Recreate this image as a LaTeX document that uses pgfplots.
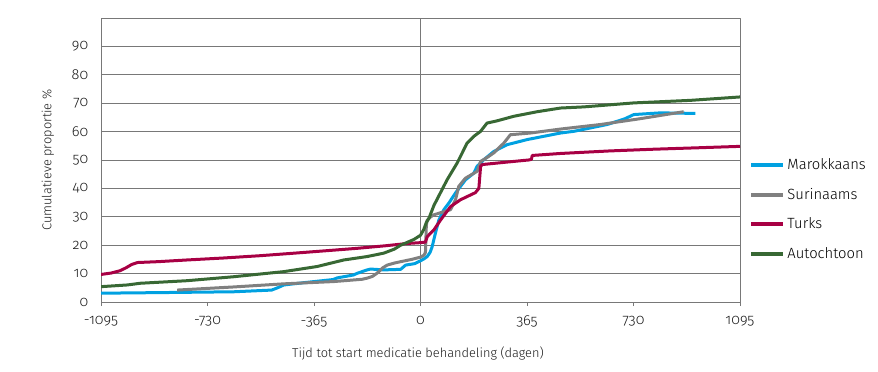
\documentclass[border=0pt]{standalone}
\usepackage{fontspec}
\setmainfont{Fira Sans Light}[Numbers=OldStyle]
\usepackage{pgfplots}
\pgfplotsset{compat=1.18}
\definecolor{cblue}{RGB}{0,161,225}
\definecolor{cgray}{RGB}{128,128,128}
\definecolor{cred}{RGB}{168,0,68}
\definecolor{cgreen}{RGB}{56,104,52}
\definecolor{gridc}{RGB}{120,120,120}
\begin{document}
\begin{tikzpicture}[x=1pt,y=1pt]
\path (0,0) rectangle (878,372);
\begin{axis}[
  at={(101pt,70pt)}, anchor=south west,
  scale only axis, width=639pt, height=284pt,
  xmin=-1095, xmax=1095, ymin=0, ymax=100,
  axis line style={gridc, line width=0.8pt},
  xtick={-1095,-730,-365,0,365,730,1095},
  xticklabels={-1095,-730,-365,0,365,730,1095},
  ytick={0,10,...,90},
  yticklabels={0,10,20,30,40,50,60,70,80,90},
  ymajorgrids, major grid style={gridc, line width=0.7pt},
  tick align=outside, xtick pos=bottom, ytick pos=left,
  major x tick style={gridc, line width=0.8pt},
  xtick style={/pgfplots/major tick length=4pt},
  ytick style={draw=none},
  tick label style={font=\fontsize{14.5}{15}\selectfont, text=black!90},
  xticklabel style={yshift=-6pt},
  yticklabel style={xshift=-5pt},
  xlabel={Tijd tot start medicatie behandeling (dagen)},
  ylabel={Cumulatieve proportie \%},
  label style={font=\fontsize{12.8}{14}\selectfont, text=black!90},
  xlabel style={at={(axis description cs:0.496,-0.18)}, anchor=center},
  ylabel style={at={(axis description cs:-0.083,0.5)}, anchor=center},
  legend style={at={(axis description cs:1.0145,0.326)}, anchor=west, draw=none, fill=none,
    font=\fontsize{14.8}{15}\selectfont, inner sep=0pt, row sep=13pt,
    /tikz/every even column/.style={column sep=0pt}},
  legend cell align=left,
  legend image code/.code={\draw[#1, line width=4pt] (0pt,0pt) -- (32pt,0pt);},
  line join=round,
]
\draw[gridc, line width=0.7pt] (axis cs:0,0) -- (axis cs:0,100);
\addplot[cblue, line width=3pt] coordinates {
(-1095,3.1) (-900,3.3) (-640,3.6) (-510,4.2) (-490,5) (-468,6) (-400,6.8) (-300,7.9) (-285,8.5) (-230,9.5) (-217,10.1) (-183,11.3) (-171,11.6) (-126,11.3) (-68,11.5) (-51,13) (-20,13.5) (0,14.5) (12,15.2) (23,16) (33,17.5) (40,19.5) (51,24.2) (63,28.9) (80,32.5) (97,34.8) (120,38.4) (137,40.7) (154,43) (183,45.4) (194,47.8) (217,50.1) (251,53) (297,55.4) (366,57.2) (480,59.5) (526,60.1) (640,62.5) (700,64.5) (731,66) (822,66.6) (942,66.4)
};
\addlegendentry{Marokkaans}
\addplot[cgray, line width=3pt] coordinates {
(-834,4.2) (-640,5.3) (-468,6.4) (-297,7.2) (-200,8) (-183,8.4) (-165,9) (-148,10.2) (-130,12) (-114,13) (-90,13.7) (-68,14.2) (-30,15) (0,15.8) (12,16.5) (17,17.5) (20,27) (23,28.8) (35,30) (46,30.7) (80,31.8) (103,32.5) (120,36) (131,40.7) (154,43.6) (194,46) (206,49.5) (230,51) (251,52.5) (286,56) (308,58.9) (377,59.5) (480,60.9) (617,62.5) (750,64.5) (902,67)
};
\addlegendentry{Surinaams}
\addplot[cred, line width=3pt] coordinates {
(-1095,9.7) (-1060,10.2) (-1030,11) (-1010,12) (-990,13.2) (-970,13.9) (-900,14.2) (-800,14.8) (-674,15.5) (-550,16.3) (-445,17.1) (-330,18) (-217,18.9) (-120,19.8) (-46,20.6) (0,20.9) (17,21.1) (23,23) (46,25.4) (69,28.9) (103,33.6) (137,36) (188,38.5) (200,40) (206,47.8) (212,48.4) (300,49.3) (370,50) (380,50.2) (383,51.6) (480,52.3) (650,53.2) (800,53.8) (950,54.3) (1095,54.8)
};
\addlegendentry{Turks}
\addplot[cgreen, line width=3pt] coordinates {
(-1095,5.4) (-1005,6) (-960,6.6) (-800,7.5) (-640,8.9) (-468,10.7) (-354,12.5) (-263,14.8) (-183,16) (-126,17.2) (-90,18.6) (-68,20) (-23,22) (0,23.5) (11,25.5) (20,28) (29,29.5) (46,34) (69,38.6) (91,43) (126,49) (160,56) (185,58.5) (206,60.1) (228,63) (263,63.8) (320,65.4) (400,67) (480,68.3) (560,68.7) (731,70.1) (925,71) (1095,72.2)
};
\addlegendentry{Autochtoon}
\end{axis}
\end{tikzpicture}
\end{document}
